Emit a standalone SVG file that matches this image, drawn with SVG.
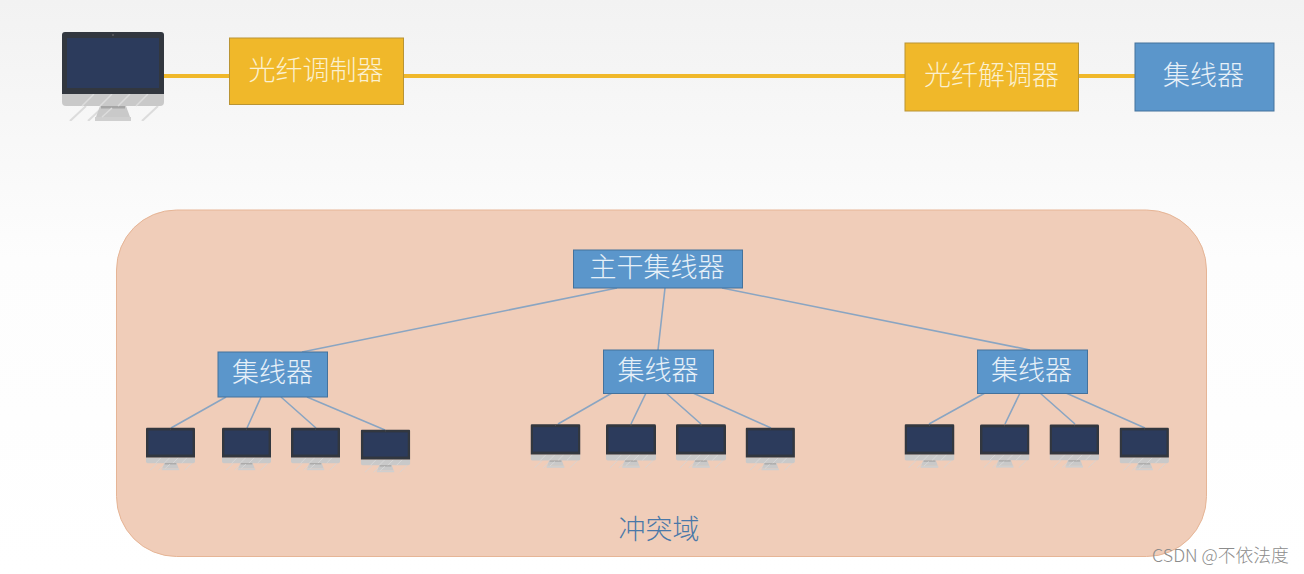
<svg xmlns="http://www.w3.org/2000/svg" width="1304" height="574" viewBox="0 0 1304 574">
<style>
text{font-family:"Noto Sans CJK SC","Liberation Sans",sans-serif;text-anchor:middle}
.y{fill:#f0b82a;stroke:#b99434;stroke-width:1}
.b{fill:#5b96cb;stroke:#44729c;stroke-width:1}
.lab{fill:#fbf0cf;font-size:27px;font-weight:300}
.lb{fill:#e6f0f8;font-size:27px;font-weight:300}
.yl{stroke:#f0b82a;stroke-width:4;fill:none}
.bl{stroke:#8aa5c2;stroke-width:1.6;fill:none}
</style>
<defs>
<linearGradient id="bg" x1="0" y1="0" x2="0" y2="1"><stop offset="0" stop-color="#f2f2f2"/><stop offset="0.45" stop-color="#fdfdfd"/><stop offset="1" stop-color="#ffffff"/></linearGradient>
<symbol id="pc" viewBox="0 0 102 89">
<g stroke="#d6d6d6" stroke-width="2" opacity="0.800"><path d="M8 89L24 74M26 89L42 74M80 89L96 74"/></g>
<path d="M0 62H102V70Q102 74 98 74H4Q0 74 0 70Z" fill="#c9c9c9"/>
<path d="M38 74H64L68 85H34Z" fill="#c9c9c9"/>
<rect x="33" y="85" width="36" height="4" fill="#cfcfcf"/>
<rect x="39" y="74" width="24" height="2.500" fill="#a5a5a5"/>
<g stroke="#dcdcdc" stroke-width="1.500"><path d="M20 74L32 62M38 74L50 62M56 74L68 62M74 74L86 62M40 85L50 76"/></g>
<path d="M3 0H99Q102 0 102 3V62H0V3Q0 0 3 0Z" fill="#32373f"/>
<rect x="5" y="6" width="92" height="50" fill="#2c3b5c"/>
<circle cx="51" cy="3" r="0.800" fill="#777"/>
</symbol>
</defs>
<rect width="1304" height="574" fill="url(#bg)"/>
<rect x="116.500" y="210" width="1090" height="346.500" rx="60" fill="#f0cdb9" stroke="#e6b596" stroke-width="1"/>
<g id="connectors">
<path class="yl" d="M164 76H230M403 76H905M1078 76H1135"/>
<path class="bl" d="M617 288L302 352M665 288L658 350M722 288L1030 350"/>
<path class="bl" d="M226 397L171 428M261 397L247 428M281 397L316 428M307 397L385 430"/>
<path class="bl" d="M612 393L558 424M646 393L631 424M666 393L701 424M693 393L771 428"/>
<path class="bl" d="M985 393L929 424M1020 393L1005 424M1040 393L1075 424M1066 393L1145 428"/>
</g>
<use id="pc-main" href="#pc" x="62" y="32" width="102" height="89"/>
<g id="modem"><rect class="y" x="229.500" y="38" width="174" height="66.500"/><text class="lab" x="316" y="80">光纤调制器</text></g>
<g id="demodem"><rect class="y" x="905" y="43" width="173.500" height="68"/><text class="lab" x="991.500" y="85">光纤解调器</text></g>
<g id="hub-top"><rect class="b" x="1135" y="43" width="139" height="68"/><text class="lb" x="1203.500" y="85">集线器</text></g>
<g id="hub-main"><rect class="b" x="573.500" y="250" width="169" height="38"/><text class="lb" x="657" y="277">主干集线器</text></g>
<g id="hub-1"><rect class="b" x="218" y="352" width="109.500" height="45"/><text class="lb" x="272.500" y="382">集线器</text></g>
<g id="hub-2"><rect class="b" x="603.500" y="350" width="110" height="43.500"/><text class="lb" x="658" y="380">集线器</text></g>
<g id="hub-3"><rect class="b" x="977.500" y="350" width="110" height="43.500"/><text class="lb" x="1031.500" y="380">集线器</text></g>
<g id="pcs-1">
<use href="#pc" x="146" y="427.500" width="49" height="43"/>
<use href="#pc" x="222" y="427.500" width="49" height="43"/>
<use href="#pc" x="291" y="427.500" width="49" height="43"/>
<use href="#pc" x="360.500" y="429.500" width="50" height="43"/>
</g>
<g id="pcs-2">
<use href="#pc" x="530.500" y="424" width="50" height="44"/>
<use href="#pc" x="606" y="424" width="50" height="44"/>
<use href="#pc" x="676" y="424" width="50" height="44"/>
<use href="#pc" x="745.500" y="427.500" width="49.500" height="43"/>
</g>
<g id="pcs-3">
<use href="#pc" x="904.500" y="424" width="50" height="44"/>
<use href="#pc" x="980" y="424" width="49.500" height="44"/>
<use href="#pc" x="1049.500" y="424" width="49.500" height="44"/>
<use href="#pc" x="1119.500" y="427.500" width="49.500" height="43"/>
</g>
<text x="659" y="539" font-size="27" fill="#4a78a8" font-weight="300">冲突域</text>
<text x="1220.500" y="562" font-size="17.800" fill="#8c8c8c" font-weight="300">CSDN @不依法度</text>
</svg>
